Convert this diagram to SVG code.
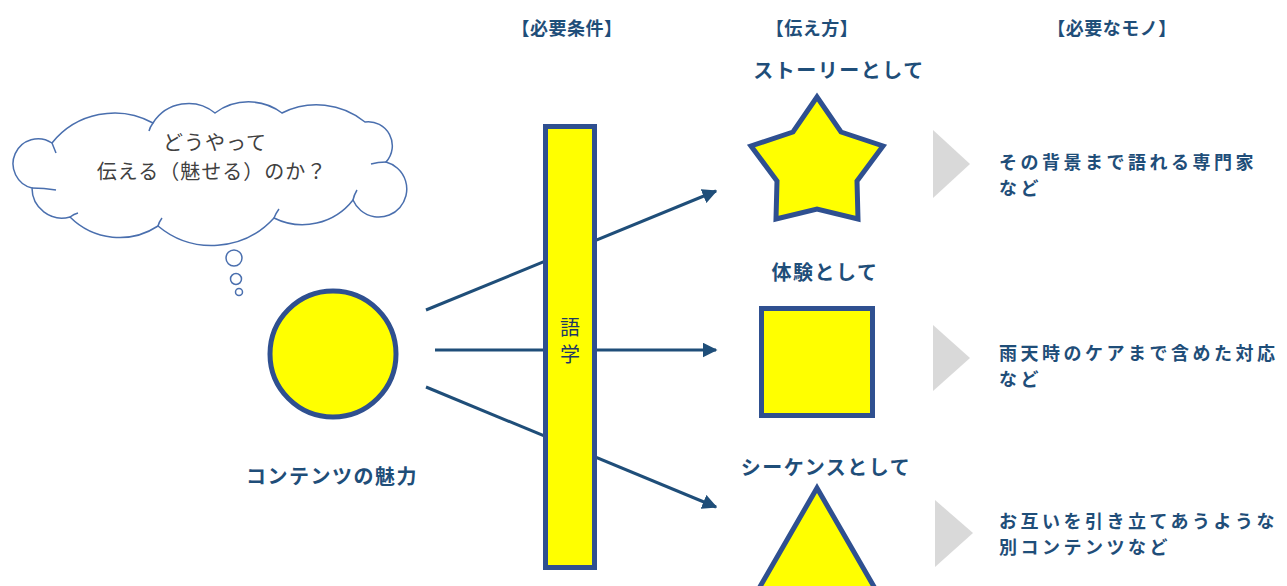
<svg xmlns="http://www.w3.org/2000/svg" width="1287" height="586" viewBox="0 0 1287 586">
<defs>
<style>
.t{font-family:"Noto Sans CJK JP","Noto Sans CJK SC",sans-serif;fill:#1F4E79;font-weight:bold}
.lbl{font-size:20px;letter-spacing:1.5px}
.nd{font-size:18px;letter-spacing:3.5px}
.hd{font-size:18px;letter-spacing:0.5px}
.cl{font-family:"Noto Sans CJK JP","Noto Sans CJK SC",sans-serif;fill:#404040;font-size:20px;letter-spacing:1px}
.shape{fill:#FFFF00;stroke:#2F5090;stroke-width:5;stroke-linejoin:miter}
.conn{stroke:#1F4E79;stroke-width:3;fill:none}
.chev{fill:#D9D9D9}
.cloud{fill:#FFFFFF;stroke:#4A6FAE;stroke-width:1.5}
</style>
<marker id="ah" viewBox="0 0 10 10" refX="9" refY="5" markerWidth="5" markerHeight="5" markerUnits="strokeWidth" orient="auto">
<path d="M0,0 L10,5 L0,10 Z" fill="#1F4E79"/>
</marker>
</defs>
<rect width="1287" height="586" fill="#FFFFFF"/>

<g id="headings">
<text class="t hd" x="567" y="35" text-anchor="middle">【必要条件】</text>
<text class="t hd" x="812" y="35" text-anchor="middle">【伝え方】</text>
<text class="t hd" x="1112" y="35" text-anchor="middle">【必要なモノ】</text>
</g>

<g id="cloud">
<path class="cloud" d="M52,143 A80,80 0 0 1 153,123 A42,42 0 0 1 215,113 A56,56 0 0 1 282,113 A77,77 0 0 1 365,122 A24,24 0 0 1 386,162 A28,28 0 1 1 353,200 A64,64 0 0 1 274,218 A84,84 0 0 1 158,226 A70,70 0 0 1 70,217 A30,30 0 0 1 32,188 A25,25 0 1 1 52,143 Z"/>
<path fill="none" stroke="#4A6FAE" stroke-width="1.5" d="M52,143 Q54,148 56,153 M153,123 Q150,127 149,131 M386,162 Q378,162 371,164 M353,200 Q354,195 357,190 M274,218 Q276,213 279,209 M158,226 Q159,222 162,218 M32,188 Q44,188 56,190 M70,217 Q74,214 78,213"/>
<circle class="cloud" cx="234" cy="258" r="8"/>
<circle class="cloud" cx="236" cy="279" r="5.5"/>
<circle class="cloud" cx="239" cy="292" r="3.5"/>
<text class="cl" text-anchor="middle"><tspan x="215" y="150">どうやって</tspan><tspan x="212" y="179">伝える（魅せる）のか？</tspan></text>
</g>

<g id="connectors">
<line class="conn" x1="426" y1="310" x2="716" y2="191" marker-end="url(#ah)"/>
<line class="conn" x1="435" y1="350" x2="716" y2="350" marker-end="url(#ah)"/>
<line class="conn" x1="426" y1="387" x2="716" y2="507" marker-end="url(#ah)"/>
</g>

<g id="content">
<circle class="shape" cx="333" cy="354" r="63" stroke="#1F4E79" stroke-width="4.5"/>
<text class="t lbl" x="332" y="484" text-anchor="middle">コンテンツの魅力</text>
</g>

<g id="gogaku">
<rect class="shape" x="545.5" y="126.5" width="49" height="441"/>
<text text-anchor="middle" font-family="'Noto Sans CJK JP',sans-serif" font-size="20" fill="#1F3864"><tspan x="570" y="335">語</tspan><tspan x="570" y="362">学</tspan></text>
</g>

<g id="story">
<text class="t lbl" x="839" y="78" text-anchor="middle">ストーリーとして</text>
<polygon class="shape" points="817,97 841,132 883,146 857,181 858,219 817,209 776,219 777,181 751,146 793,132"/>
</g>

<g id="experience">
<text class="t lbl" x="825" y="280" text-anchor="middle">体験として</text>
<rect class="shape" x="761.5" y="308.5" width="111" height="107"/>
</g>

<g id="sequence">
<text class="t lbl" x="826" y="475" text-anchor="middle">シーケンスとして</text>
<polygon class="shape" points="817,488 884,604 750,604"/>
</g>

<g id="need1">
<polygon class="chev" points="933,130 970,164 933,198"/>
<text class="t nd"><tspan x="999" y="169">その背景まで語れる専門家</tspan><tspan x="999" y="195">など</tspan></text>
</g>

<g id="need2">
<polygon class="chev" points="933,325 970,358 933,391"/>
<text class="t nd"><tspan x="999" y="360">雨天時のケアまで含めた対応</tspan><tspan x="999" y="386">など</tspan></text>
</g>

<g id="need3">
<polygon class="chev" points="935,500 973,533 935,567"/>
<text class="t nd"><tspan x="999" y="528">お互いを引き立てあうような</tspan><tspan x="999" y="554">別コンテンツなど</tspan></text>
</g>
</svg>
